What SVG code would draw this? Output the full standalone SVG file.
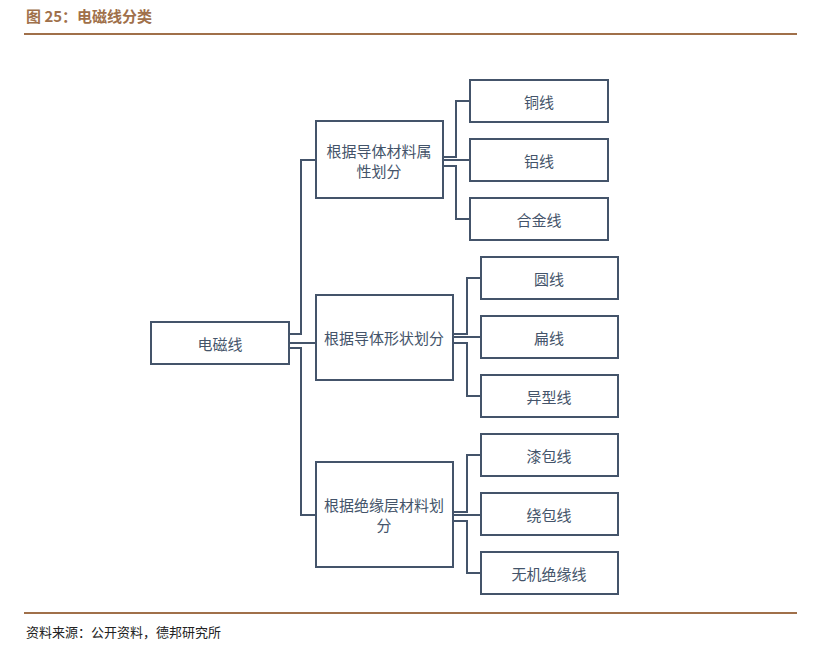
<svg xmlns="http://www.w3.org/2000/svg" width="833" height="651" viewBox="0 0 833 651">
<style>
.b{fill:#fff;stroke:#44546a;stroke-width:2}
.t{font-family:"Noto Sans CJK SC",sans-serif;font-size:15px;fill:#44546a;text-anchor:middle;dominant-baseline:central}
.c{fill:none;stroke:#44546a;stroke-width:2}
.h{font-family:"Noto Sans CJK SC",sans-serif;font-weight:bold;fill:#a0704a}
</style>
<rect width="833" height="651" fill="#fff"/>
<text class="h" x="26" y="22" font-size="15">图 25：电磁线分类</text>
<line x1="24" y1="34" x2="797" y2="34" stroke="#a0704a" stroke-width="2"/>
<line x1="24" y1="613" x2="797" y2="613" stroke="#a0704a" stroke-width="2"/>
<text x="26" y="637" font-family="Noto Sans CJK SC,sans-serif" font-size="13" fill="#222">资料来源：公开资料，德邦研究所</text>
<g id="connectors">
<path class="c" d="M289 334H301V160H316M289 343H316M289 348H301V515H316"/>
<path class="c" d="M443 157H456V101H470M443 160H470M443 166H456V219H470"/>
<path class="c" d="M453 334H467V278H481M453 337H481M453 343H467V396H481"/>
<path class="c" d="M453 512H467V455H481M453 515H481M453 521H467V573H481"/>
</g>
<g id="root"><rect class="b" x="151" y="322" width="138" height="42"/><text class="t" x="220" y="343">电磁线</text></g>
<g id="m1"><rect class="b" x="316" y="121" width="127" height="77"/><text class="t" x="379" y="150">根据导体材料属</text><text class="t" x="379" y="170">性划分</text></g>
<g id="m2"><rect class="b" x="316" y="295" width="137" height="85"/><text class="t" x="384" y="337">根据导体形状划分</text></g>
<g id="m3"><rect class="b" x="316" y="462" width="137" height="105"/><text class="t" x="384" y="504">根据绝缘层材料划</text><text class="t" x="384" y="524">分</text></g>
<g id="l1"><rect class="b" x="470" y="80" width="138" height="42"/><text class="t" x="539" y="101">铜线</text></g>
<g id="l2"><rect class="b" x="470" y="139" width="138" height="42"/><text class="t" x="539" y="160">铝线</text></g>
<g id="l3"><rect class="b" x="470" y="198" width="138" height="42"/><text class="t" x="539" y="219">合金线</text></g>
<g id="l4"><rect class="b" x="481" y="257" width="137" height="42"/><text class="t" x="549" y="278">圆线</text></g>
<g id="l5"><rect class="b" x="481" y="316" width="137" height="42"/><text class="t" x="549" y="337">扁线</text></g>
<g id="l6"><rect class="b" x="481" y="375" width="137" height="42"/><text class="t" x="549" y="396">异型线</text></g>
<g id="l7"><rect class="b" x="481" y="434" width="137" height="42"/><text class="t" x="549" y="455">漆包线</text></g>
<g id="l8"><rect class="b" x="481" y="493" width="137" height="42"/><text class="t" x="549" y="514">绕包线</text></g>
<g id="l9"><rect class="b" x="481" y="552" width="137" height="42"/><text class="t" x="549" y="573">无机绝缘线</text></g>
</svg>
